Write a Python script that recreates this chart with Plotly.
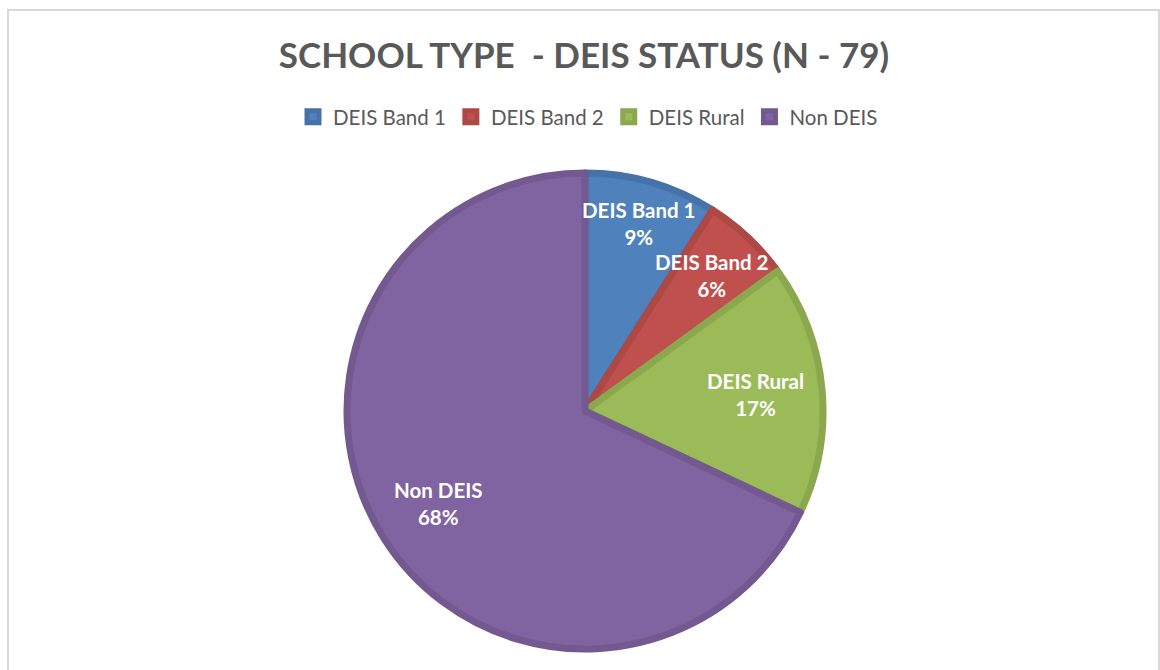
import math
import plotly.graph_objects as go

# Share of schools by DEIS status (N = 79), in percent
categories = ["DEIS Band 1", "DEIS Band 2", "DEIS Rural", "Non DEIS"]
shares = [9, 6, 17, 68]

fill_colors = ["#4F81BD", "#C0504D", "#9BBB59", "#8064A2"]
edge_colors = ["#4672A8", "#AD4845", "#8BA84F", "#73598F"]
# how far out (fraction of radius) each slice label sits
label_radius = [0.81, 0.77, 0.71, 0.72]

W, H = 1160, 670
cx, cy, R = 585, 411, 238

fig = go.Figure(
    go.Pie(
        labels=categories,
        values=shares,
        sort=False,
        direction="clockwise",
        rotation=0,
        marker=dict(colors=fill_colors, line=dict(color=edge_colors, width=7)),
        textinfo="none",
        hoverinfo="label+percent",
        domain=dict(
            x=[(cx - R) / W, (cx + R) / W],
            y=[(H - cy - R) / H, (H - cy + R) / H],
        ),
    )
)

# slice labels placed at each slice's mid-angle
total = sum(shares)
annotations = []
start = 0.0
for name, v, rf in zip(categories, shares, label_radius):
    mid = (start + v / 2) / total * 2 * math.pi
    start += v
    r = rf * (R + 3)
    px = cx + r * math.sin(mid)
    py = cy - r * math.cos(mid)
    annotations.append(
        dict(
            x=px / W,
            y=(H - py) / H,
            xref="paper",
            yref="paper",
            text=f"{name}<br>{round(v / total * 100)}%",
            showarrow=False,
            xanchor="center",
            yanchor="middle",
            align="center",
            font=dict(family="Lato", size=20.5, color="white", weight="bold"),
        )
    )

fig.update_layout(
    width=W,
    height=H,
    margin=dict(l=0, r=0, t=0, b=0),
    paper_bgcolor="white",
    plot_bgcolor="white",
    annotations=annotations,
    title=dict(
        text="SCHOOL TYPE  - DEIS STATUS (N - 79)",
        x=584 / W,
        xanchor="center",
        y=1 - 56 / H,
        yanchor="middle",
        font=dict(family="Lato", size=35, color="#595959", weight="bold"),
    ),
    legend=dict(
        orientation="h",
        x=588 / W,
        xanchor="center",
        y=1 - 117 / H,
        yanchor="middle",
        font=dict(family="Lato", size=20.5, color="#595959"),
        itemwidth=30,
        traceorder="normal",
    ),
    shapes=[
        dict(
            type="rect",
            xref="paper",
            yref="paper",
            x0=8 / W,
            x1=1159 / W,
            y0=-0.05,
            y1=1 - 10 / H,
            line=dict(color="#D9D9D9", width=2),
            fillcolor="rgba(0,0,0,0)",
            layer="below",
        )
    ],
)

fig.write_html("out.html")
